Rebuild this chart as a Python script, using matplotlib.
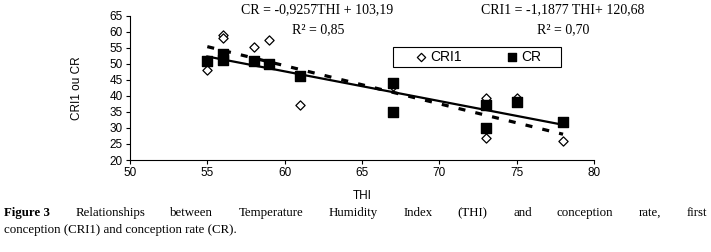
import matplotlib
matplotlib.use("Agg")
import matplotlib.pyplot as plt
from matplotlib.patches import Rectangle
import numpy as np

# valores
thi_cri1 = [55, 56, 56, 58, 59, 61, 67, 73, 73, 75, 78]
cri1 = [48, 59, 58, 55.3, 57.3, 37, 43, 39.3, 27, 39.2, 26]
thi_cr = [55, 56, 56, 58, 59, 61, 67, 67, 73, 73, 75, 78]
cr = [51, 53, 51.3, 51, 49.8, 46.2, 44, 35, 37, 30, 38, 32]

# rectas de regresion (del grafico)
pend_cr, orig_cr = -0.9257, 103.19
pend_cri1, orig_cri1 = -1.1877, 120.68
rango = [55, 78]

plt.rcParams["font.family"] = ["Liberation Sans", "DejaVu Sans"]

fig = plt.figure(figsize=(7.11, 2.52), dpi=100)
ax = fig.add_axes([0.1828, 0.365, 0.6526, 0.5727])

x = np.array(rango)
ax.plot(x, pend_cri1 * x + orig_cri1, color="black", lw=2.3, ls=(0, (2.2, 3.2)), zorder=2)
ax.plot(x, pend_cr * x + orig_cr, color="black", lw=1.6, zorder=2)
ax.scatter(thi_cri1, cri1, marker="D", s=22, facecolor="white", edgecolor="black",
           linewidth=0.9, zorder=3, label="CRI1")
ax.scatter(thi_cr, cr, marker="s", s=50, color="black", zorder=4, label="CR")

ax.set_xlim(50, 80)
ax.set_ylim(20, 65)
ax.set_xticks(range(50, 81, 5))
ax.set_yticks(range(20, 66, 5))
for s in ["top", "right"]:
    ax.spines[s].set_visible(False)
ax.tick_params(labelsize=8.5, length=3, width=0.8, direction="out", pad=2)
for s in ["left", "bottom"]:
    ax.spines[s].set_linewidth(0.8)
ax.set_xlabel("THI", fontsize=8.5, labelpad=8)
ax.set_ylabel("CRI1 ou CR", fontsize=8.5, labelpad=19)

# leyenda sin marco propio + recuadro
ax.add_patch(Rectangle((0.567, 0.644), 0.362, 0.139, transform=ax.transAxes,
                       facecolor="white", edgecolor="black", lw=0.8, zorder=5))
leg = ax.legend(loc="center left", bbox_to_anchor=(0.612, 0.714), ncol=2, fontsize=10,
                frameon=False, columnspacing=3.13, handletextpad=0.15, borderpad=0,
                borderaxespad=0, handlelength=1.0, markerscale=0.9)
leg.set_zorder(6)

serif = "Liberation Serif"
fig.text(0.446, 0.963, "CR = -0,9257THI + 103,19", family=serif, fontsize=10, ha="center", va="center")
fig.text(0.447, 0.883, "R² = 0,85", family=serif, fontsize=10, ha="center", va="center")
fig.text(0.792, 0.963, "CRI1 = -1,1877 THI+ 120,68", family=serif, fontsize=10, ha="center", va="center")
fig.text(0.792, 0.883, "R² = 0,70", family=serif, fontsize=10, ha="center", va="center")

# leyenda de la figura, primera linea justificada
fig.canvas.draw()
rend = fig.canvas.get_renderer()
palabras = ["Figure 3", "Relationships", "between", "Temperature", "Humidity", "Index", "(THI)",
            "and", "conception", "rate,", "first"]
x0, x1 = 4 / 711, 707 / 711
y1 = 1 - 213 / 252
objs = []
for i, p in enumerate(palabras):
    t = fig.text(0, y1, p, family=serif, fontsize=9.3, va="center", ha="left",
                 weight="bold" if i == 0 else "normal")
    objs.append(t)
anchos = [t.get_window_extent(rend).width / fig.bbox.width for t in objs]
hueco = (x1 - x0 - sum(anchos)) / (len(objs) - 1)
pos = x0
for t, w in zip(objs, anchos):
    t.set_x(pos)
    pos += w + hueco
fig.text(x0, 1 - 230 / 252, "conception (CRI1) and conception rate (CR).", family=serif,
         fontsize=9.3, va="center", ha="left")

fig.savefig("out.png", dpi=100)
